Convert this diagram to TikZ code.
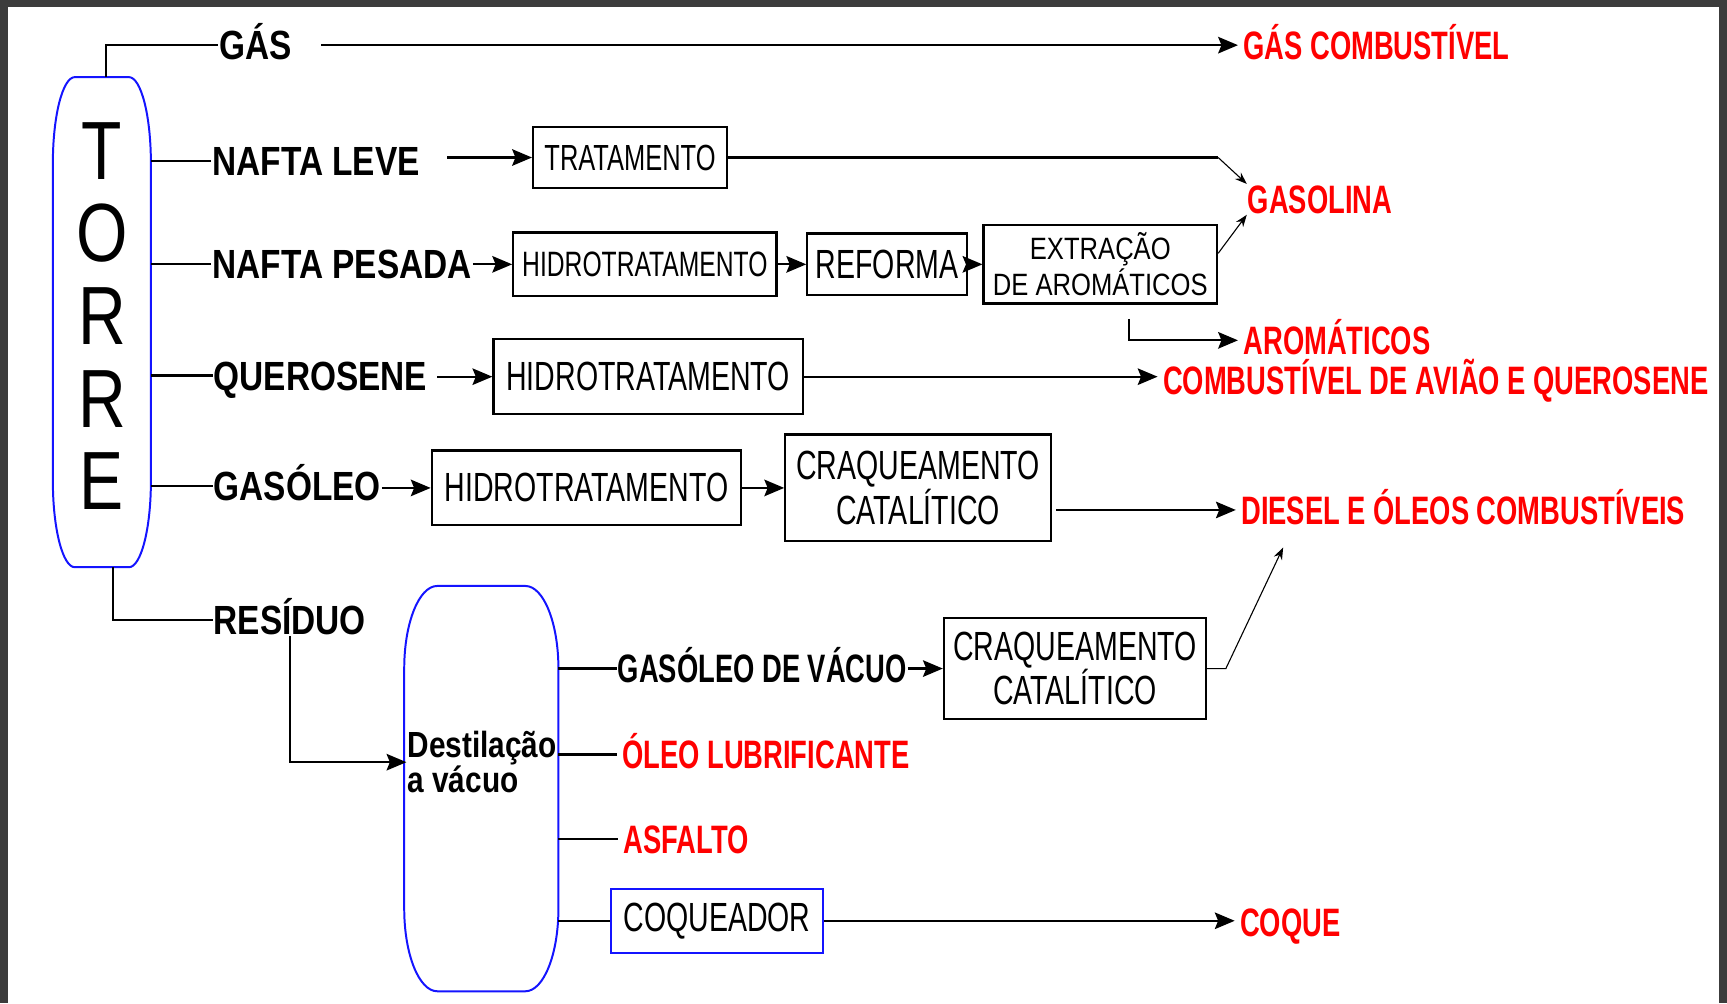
\documentclass[tikz,border=0pt]{standalone}
\usepackage{fontspec}
\setmainfont{Liberation Sans}
\newfontfamily\boxfont[FakeStretch=0.70]{Liberation Sans}
\newfontfamily\boxwidefont[FakeStretch=0.83]{Liberation Sans}
\newfontfamily\lblfont[FakeStretch=0.82]{Liberation Sans}
\newfontfamily\outfont[FakeStretch=0.69]{Liberation Sans}
\newfontfamily\torrefont[FakeStretch=0.80]{Liberation Sans}
\usepackage{xcolor}
\usetikzlibrary{positioning,arrows.meta}
\definecolor{framegray}{RGB}{60,60,60}
\definecolor{outred}{RGB}{255,0,0}
\definecolor{vesselblue}{RGB}{20,20,255}

% outline of a column around an (undrawn) node: #1 node, #2 flat inset, #3 cap height
\newcommand{\vessel}[3]{%
  \draw[vesselline] ([yshift=-#3]#1.north west)
    .. controls ([yshift=-0.448*#3]#1.north west) and ([xshift=0.448*#2]#1.north west) .. ([xshift=#2]#1.north west)
    -- ([xshift=-#2]#1.north east)
    .. controls ([xshift=-0.448*#2]#1.north east) and ([yshift=-0.448*#3]#1.north east) .. ([yshift=-#3]#1.north east)
    -- ([yshift=#3]#1.south east)
    .. controls ([yshift=0.448*#3]#1.south east) and ([xshift=-0.448*#2]#1.south east) .. ([xshift=-#2]#1.south east)
    -- ([xshift=#2]#1.south west)
    .. controls ([xshift=0.448*#2]#1.south west) and ([yshift=0.448*#3]#1.south west) .. ([yshift=#3]#1.south west)
    -- cycle;}

\begin{document}
\begin{tikzpicture}[x=1pt, y=-1pt, line width=2pt, >={Stealth[length=18pt,width=15pt,inset=3pt]}]
\tikzstyle{unit}=[rectangle, draw, line width=2pt, inner sep=2pt, align=center, font=\boxfont\fontsize{37}{37}\selectfont]
\tikzstyle{stream}=[anchor=west, inner sep=0pt, text height=26.5pt, text depth=0pt, font=\lblfont\bfseries\fontsize{37}{40}\selectfont]
\tikzstyle{product}=[anchor=west, inner xsep=4pt, inner ysep=0pt, text=outred, text height=26pt, text depth=0pt, font=\outfont\bfseries\fontsize{36}{38}\selectfont]
\tikzstyle{column}=[rectangle, inner sep=0pt, outer sep=0pt]
\tikzstyle{vesselline}=[draw=vesselblue, line width=1.8pt]
\tikzstyle{thinarrow}=[line width=1pt, -{Stealth[length=11pt,width=8pt]}]

\useasboundingbox (0,0) rectangle (1568,911);
\fill[framegray] (0,0) rectangle (1568,911);
\fill[white] (7,6) rectangle (1561,911);

% Columns
\node[column, minimum width=89pt, minimum height=445pt] (torre) at (92.5,292.5) {};
\vessel{torre}{20pt}{78pt}
\node[inner sep=0pt, align=center, font=\torrefont\fontsize{75}{75}\selectfont] (letras) at (92.5,287) {T\\O\\R\\R\\E};
\node[column, minimum width=140pt, minimum height=368pt] (vacuo) at (437,716) {};
\vessel{vacuo}{30pt}{75pt}
\node[anchor=west, inner sep=0pt, align=left, font=\lblfont\bfseries\fontsize{33}{31}\selectfont] (destil) at (369,692) {Destilação\\a vácuo};

% Cuts leaving the tower
\node[stream] (gas) at (198,41) {GÁS};
\node[stream] (nleve) at (192,146) {NAFTA LEVE};
\node[stream] (npesada) at (192,240) {NAFTA PESADA};
\node[stream] (querosene) at (193,341) {QUEROSENE};
\node[stream] (gasoleo) at (193,441) {GASÓLEO};
\node[stream] (residuo) at (193,563) {RESÍDUO};
\node[stream, text height=26pt, font=\outfont\bfseries\fontsize{36}{38}\selectfont] (gov) at (560,607) {GASÓLEO DE VÁCUO};

% Process units
\node[unit, minimum width=176pt, minimum height=55pt, font=\boxfont\fontsize{33}{34}\selectfont] (trat) at (572,143) {TRATAMENTO};
\node[unit, minimum width=239pt, minimum height=58pt, font=\boxfont\fontsize{32}{33}\selectfont] (hidro1) at (585.5,240) {HIDROTRATAMENTO};
\node[unit, right=26pt of hidro1, minimum width=145pt, minimum height=56pt] (reforma) {REFORMA};
\node[unit, right=13pt of reforma, minimum width=212pt, minimum height=71pt, font=\boxwidefont\fontsize{28}{33}\selectfont] (extr) {EXTRAÇÃO\\DE AROMÁTICOS};
\node[unit, minimum width=281pt, minimum height=68pt] (hidro2) at (588.5,342) {HIDROTRATAMENTO};
\node[unit, minimum width=281pt, minimum height=68pt] (hidro3) at (532.5,443) {HIDROTRATAMENTO};
\node[unit, right=38pt of hidro3, minimum width=241pt, minimum height=97pt, font=\boxfont\fontsize{37}{36}\selectfont] (craq1) {CRAQUEAMENTO\\CATALÍTICO};
\node[unit, minimum width=238pt, minimum height=92pt, font=\boxfont\fontsize{37}{37}\selectfont] (craq2) at (976,607) {CRAQUEAMENTO\\CATALÍTICO};
\node[unit, draw=vesselblue, minimum width=192pt, minimum height=58pt] (coq) at (651,836) {COQUEADOR};

% Products
\node[product] (gascomb) at (1124,41) {GÁS COMBUSTÍVEL};
\node[product] (gasolina) at (1128,181) {GASOLINA};
\node[product] (aromaticos) at (1124,309) {AROMÁTICOS};
\node[product] (combaviao) at (1051,345) {COMBUSTÍVEL DE AVIÃO E QUEROSENE};
\node[product] (diesel) at (1122,463) {DIESEL E ÓLEOS COMBUSTÍVEIS};
\node[product] (oleolub) at (560,685) {ÓLEO LUBRIFICANTE};
\node[product] (asfalto) at (561,762) {ASFALTO};
\node[product] (coque) at (1121,837) {COQUE};

% Tower connections
\draw ([xshift=3.5pt]torre.north) |- (gas.west);
\draw[->] ([xshift=26pt]gas.east) -- (gascomb.west);
\draw (torre.east |- nleve.west) -- (nleve.west);
\draw[->] ([xshift=-77pt]trat.west) -- (trat.west);
\draw (trat.east) -- (trat.east -| extr.east);
\draw[thinarrow] (trat.east -| extr.east) -- ([xshift=4pt]gasolina.north west);
\draw (torre.east |- npesada.west) -- (npesada.west);
\draw[->] (npesada.east |- hidro1.west) -- (hidro1.west);
\draw[->] (hidro1) -- (reforma);
\draw[->] (reforma) -- (extr);
\draw[thinarrow] ([yshift=10pt]extr.east) -- ([xshift=4pt]gasolina.south west);
\draw[->] ([xshift=26pt,yshift=-13pt]extr.south) |- (aromaticos.west);
\draw (torre.east |- querosene.west) -- (querosene.west);
\draw[->] ([xshift=-50pt]hidro2.west) -- (hidro2.west);
\draw[->] (hidro2.east) -- (hidro2.east -| combaviao.west);
\draw (torre.east |- gasoleo.west) -- (gasoleo.west);
\draw[->] (gasoleo.east |- hidro3.west) -- (hidro3.west);
\draw[->] (hidro3) -- (craq1);
\draw[->] ([xshift=4pt]craq1.east |- diesel.west) -- (diesel.west);
\draw ([xshift=10pt]torre.south) |- (residuo.west);
\draw[->] (residuo.south) |- (destil.west);

% Vacuum column connections
\draw (vacuo.east |- gov.west) -- (gov.west);
\draw[->] (gov.east |- craq2.west) -- (craq2.west);
\coordinate (dieselin) at ([xshift=43pt,yshift=-20pt]diesel.south west);
\draw[thinarrow] (craq2.east) -- ++(17,0) -- (dieselin);
\draw (vacuo.east |- oleolub.west) -- (oleolub.west);
\draw (vacuo.east |- asfalto.west) -- (asfalto.west);
\draw (vacuo.east |- coq.west) -- (coq.west);
\draw[->] (coq.east) -- (coq.east -| coque.west);
\end{tikzpicture}
\end{document}
